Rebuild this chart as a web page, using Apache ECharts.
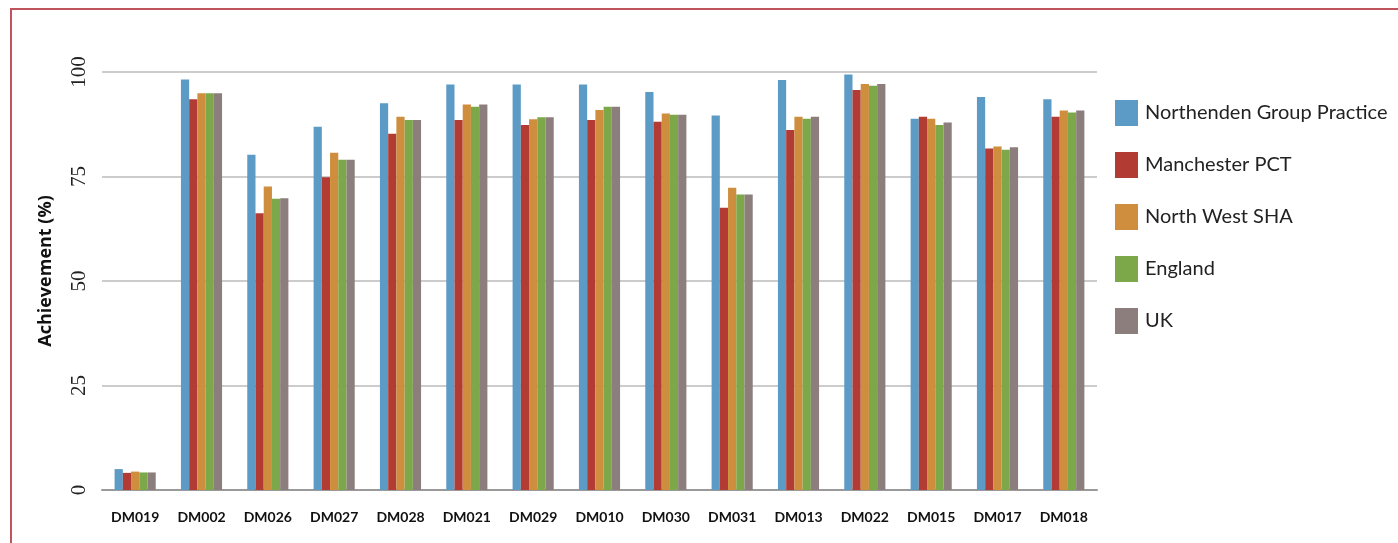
<!DOCTYPE html>
<html>
<head>
<meta charset="utf-8">
<script src="https://cdn.jsdelivr.net/npm/echarts@6/dist/echarts.min.js"></script>
<style>
html,body{margin:0;padding:0;background:#fff;}
#frame{position:absolute;left:10px;top:8px;right:-4px;bottom:-4px;border-top:2px solid #c0545c;border-left:2px solid #c0545c;}
#chart{position:absolute;left:0;top:0;width:1398px;height:543px;}
</style>
</head>
<body>
<div id="frame"></div>
<div id="chart"></div>
<script>
const categories = ["DM019","DM002","DM026","DM027","DM028","DM021","DM029","DM010","DM030","DM031","DM013","DM022","DM015","DM017","DM018"];
const yTicks = [0, 25, 50, 75, 100];
const northenden = [5.0, 98.2, 80.2, 86.9, 92.5, 97.0, 97.0, 97.0, 95.2, 89.6, 98.1, 99.4, 88.8, 94.0, 93.5];
const manchester = [4.1, 93.5, 66.2, 74.8, 85.2, 88.5, 87.3, 88.5, 88.1, 67.5, 86.1, 95.7, 89.3, 81.7, 89.3];
const northWest  = [4.4, 94.9, 72.6, 80.7, 89.3, 92.2, 88.7, 90.9, 90.1, 72.3, 89.3, 97.1, 88.8, 82.2, 90.8];
const england    = [4.2, 94.9, 69.7, 79.0, 88.5, 91.7, 89.2, 91.7, 89.8, 70.7, 88.8, 96.7, 87.3, 81.4, 90.3];
const uk         = [4.2, 94.9, 69.8, 79.0, 88.5, 92.2, 89.2, 91.7, 89.8, 70.7, 89.3, 97.1, 87.9, 82.0, 90.8];
const seriesNames = ["Northenden Group Practice","Manchester PCT","North West SHA","England","UK"];
const seriesData = [northenden, manchester, northWest, england, uk];
const colors = ["#5b9bc5","#b23b33","#cf8e3d","#7da84a","#8d7e7e"];

const chart = echarts.init(document.getElementById('chart'), null, {renderer:'canvas'});
chart.setOption({
  animation:false,
  color: colors,
  grid:{left:102, right:301, top:72, bottom:53, containLabel:false},
  legend:{
    orient:'vertical', left:1115, top:100, padding:0,
    itemWidth:23, itemHeight:26, itemGap:26,
    icon:'rect',
    data: seriesNames,
    textStyle:{fontFamily:'Lato', fontSize:20, color:'#222', padding:[0,0,0,2]}
  },
  xAxis:{
    type:'category', data:categories,
    axisLine:{lineStyle:{color:'#9a9a9a', width:2}},
    axisTick:{show:false},
    axisLabel:{fontFamily:'Lato', fontWeight:'bold', fontSize:14, color:'#111', margin:20, interval:0}
  },
  yAxis:{
    type:'value', min:0, max:100, interval:25,
    name:'Achievement (%)', nameLocation:'middle', nameGap:47, nameRotate:90,
    nameTextStyle:{fontFamily:'"Open Sans", sans-serif', fontWeight:'bold', fontSize:18, color:'#111', padding:[0,0,0,20]},
    axisLine:{show:false}, axisTick:{show:false},
    axisLabel:{rotate:90, color:'#222', margin:12,
      formatter:function(v){ return yTicks.indexOf(v) >= 0 ? '{s|' + v + '}' : ''; },
      rich:{s:{fontFamily:'Liberation Serif', fontSize:21, color:'#222'}}},
    splitLine:{lineStyle:{color:'#cccccc', width:2}}
  },
  series: seriesNames.map(function(n,i){
    return {name:n, type:'bar', data:seriesData[i], barGap:'0%', barCategoryGap:'38%'};
  })
});
</script>
</body>
</html>
